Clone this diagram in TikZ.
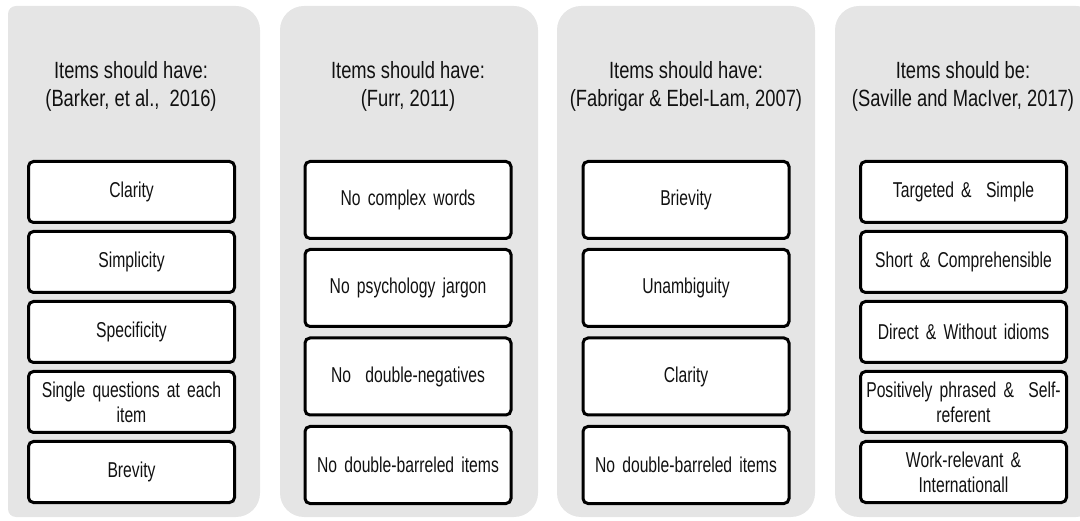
\documentclass[tikz,border=0pt]{standalone}
\usepackage{fontspec}
\setmainfont{Liberation Sans}[FakeStretch=0.78]
\newfontfamily\itemfamily{Liberation Sans}[FakeStretch=0.73]
\definecolor{panelgray}{HTML}{E5E5E5}
\definecolor{txt}{HTML}{111111}
\newcommand\titlefnt{\fontsize{23.5}{28}\selectfont}
\newcommand\itemfnt{\itemfamily\fontsize{21.5}{25}\selectfont}
\begin{document}
\begin{tikzpicture}[x=1pt,y=-1pt,
  paneltitle/.style={align=center, text=txt, inner sep=0pt, font=\titlefnt},
  itembox/.style={draw=black, line width=3pt, rounded corners=5pt, fill=white, text=txt,
    align=center, inner sep=0pt, minimum width=206pt, text width=204pt,
    font=\itemfnt},
  shortbox/.style={itembox, minimum height=61pt},
  tallbox/.style={itembox, minimum height=77pt}]
\useasboundingbox (0,0) rectangle (1080,521);
\clip (0,0) rectangle (1080,521);
% panels
\fill[panelgray] (8,517) [rounded corners=8pt] -- (8,6) [rounded corners=24pt] -- (260,6) -- (260,517) [rounded corners=8pt] -- cycle;
\fill[panelgray, rounded corners=24pt] (280,6) rectangle (538,517);
\fill[panelgray, rounded corners=24pt] (557,6) rectangle (815,517);
\fill[panelgray, rounded corners=24pt] (835,6) rectangle (1100,517);
% titles
\node[paneltitle] (t1) at (131,86) {Items should have:\\(Barker, et al.,\ \ 2016)};
\node[paneltitle] (t2) at (408,86) {Items should have:\\(Furr, 2011)};
\node[paneltitle] (t3) at (686,86) {Items should have:\\(Fabrigar \& Ebel-Lam, 2007)};
\node[paneltitle] (t4) at (963,86) {Items should be:\\(Saville and MacIver, 2017)};
% panel 1
\node[shortbox] (a1) at (131.5,192) {Clarity};
\node[shortbox] (a2) at (131.5,262) {Simplicity};
\node[shortbox] (a3) at (131.5,332) {Specificity};
\node[shortbox] (a4) at (131.5,402) {Single questions at each\\item};
\node[shortbox] (a5) at (131.5,472) {Brevity};
% panel 2
\node[tallbox] (b1) at (408,200) {No complex words};
\node[tallbox] (b2) at (408,288) {No psychology jargon};
\node[tallbox] (b3) at (408,376.5) {No\ \ double-negatives};
\node[tallbox] (b4) at (408,465) {No double-barreled items};
% panel 3
\node[tallbox] (c1) at (686,200) {Brievity};
\node[tallbox] (c2) at (686,288) {Unambiguity};
\node[tallbox] (c3) at (686,376.5) {Clarity};
\node[tallbox] (c4) at (686,465) {No double-barreled items};
% panel 4
\node[shortbox] (d1) at (963.5,192) {Targeted \&\ \ Simple};
\node[shortbox] (d2) at (963.5,262) {Short \& Comprehensible};
\node[shortbox] (d3) at (963.5,332) {Direct \& Without idioms};
\node[shortbox] (d4) at (963.5,402) {Positively phrased \&\ \ Self-\\referent};
\node[shortbox] (d5) at (963.5,472) {Work-relevant \&\\Internationall};
\end{tikzpicture}
\end{document}
